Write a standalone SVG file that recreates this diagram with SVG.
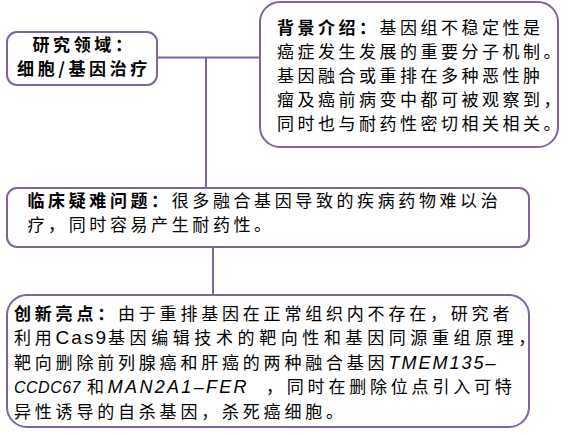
<svg xmlns="http://www.w3.org/2000/svg" width="576" height="436" viewBox="0 0 576 436">
<style>
.box{fill:#fff;stroke:#8064A2;stroke-width:2}
.ln{stroke:#8064A2;stroke-width:2;fill:none}
.t{font-family:"Noto Sans CJK SC","Noto Sans",sans-serif;font-size:17px;fill:#000;letter-spacing:3.6px}
.b{font-weight:bold}
.lat{font-family:"Liberation Sans",Arial,sans-serif;font-size:18px}
.it{font-style:italic}
</style>
<rect width="576" height="436" fill="#fff"/>
<g id="connectors">
<line class="ln" x1="157" y1="57.5" x2="260" y2="57.5"/>
<line class="ln" x1="206" y1="57.5" x2="206" y2="188"/>
<line class="ln" x1="213" y1="247" x2="213" y2="295"/>
</g>
<g id="field">
<rect class="box" x="7" y="32" width="150" height="53" rx="10"/>
<text class="t b" x="84" y="51" text-anchor="middle">研究领域：</text>
<text class="t b" x="84" y="74.5" text-anchor="middle">细胞/基因治疗</text>
</g>
<g id="background">
<rect class="box" x="260" y="2" width="298" height="145" rx="20"/>
<text class="t" x="277" y="33.5" style="letter-spacing:3.5px"><tspan class="b">背景介绍：</tspan>基因组不稳定性是</text>
<text class="t" x="277" y="57.5" style="letter-spacing:3.5px">癌症发生发展的重要分子机制。</text>
<text class="t" x="277" y="81.5" style="letter-spacing:3.5px">基因融合或重排在多种恶性肿</text>
<text class="t" x="277" y="105.5" style="letter-spacing:3.5px">瘤及癌前病变中都可被观察到，</text>
<text class="t" x="277" y="129.5" style="letter-spacing:3.5px">同时也与耐药性密切相关相关。</text>
</g>
<g id="problem">
<rect class="box" x="7" y="188" width="522" height="59" rx="10"/>
<text class="t" x="27.5" y="207"><tspan class="b">临床疑难问题：</tspan>很多融合基因导致的疾病药物难以治</text>
<text class="t" x="27.5" y="231">疗，同时容易产生耐药性。</text>
</g>
<g id="innovation">
<rect class="box" x="7" y="295" width="522" height="132" rx="20"/>
<text class="t" x="14" y="319.5" style="letter-spacing:3.8px"><tspan class="b">创新亮点：</tspan>由于重排基因在正常组织内不存在，研究者</text>
<text class="t" x="14" y="344" style="letter-spacing:3.8px">利用<tspan class="lat" style="font-size:19px;letter-spacing:2px">Cas9</tspan><tspan style="letter-spacing:4.6px">基因编辑技术的靶向性和基因同源重组原理，</tspan></text>
<text class="t" x="14" y="368.5" style="letter-spacing:3.8px">靶向删除前列腺癌和肝癌的两种融合基因<tspan class="lat it" style="letter-spacing:2px">TMEM135–</tspan></text>
<text class="t" x="14" y="393" style="letter-spacing:3.8px"><tspan class="lat it" style="font-size:16px;letter-spacing:0.5px">CCDC67 </tspan><tspan x="87">和</tspan><tspan class="lat it" style="letter-spacing:2.3px">MAN2A1–FER </tspan><tspan x="266">，同时在删除位点引入可特</tspan></text>
<text class="t" x="14" y="417.5" style="letter-spacing:3.8px">异性诱导的自杀基因，杀死癌细胞。</text>
</g>
</svg>
